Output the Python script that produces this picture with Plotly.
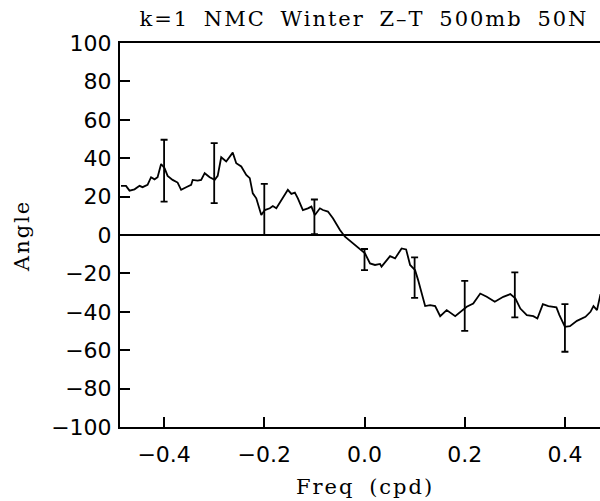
import plotly.graph_objects as go

# Phase angle spectrum, k=1, NMC winter Z-T at 500mb, 50N
freq = [-0.486, -0.476, -0.469, -0.459, -0.449, -0.443, -0.433, -0.426, -0.419, -0.413,
        -0.406, -0.399, -0.393, -0.383, -0.373, -0.366, -0.356, -0.346, -0.343, -0.333,
        -0.326, -0.319, -0.309, -0.299, -0.293, -0.286, -0.276, -0.263, -0.256, -0.246,
        -0.236, -0.229, -0.223, -0.216, -0.206, -0.199, -0.189, -0.183, -0.176, -0.166,
        -0.153, -0.146, -0.139, -0.133, -0.123, -0.113, -0.106, -0.099, -0.089, -0.083,
        -0.073, -0.063, -0.053, -0.049, -0.039, -0.023, 0.001, 0.011, 0.021, 0.031,
        0.034, 0.051, 0.061, 0.074, 0.083, 0.091, 0.101, 0.107, 0.121, 0.131,
        0.141, 0.151, 0.164, 0.181, 0.191, 0.204, 0.217, 0.231, 0.244, 0.260,
        0.277, 0.291, 0.301, 0.311, 0.324, 0.337, 0.345, 0.356, 0.367, 0.383,
        0.389, 0.400, 0.410, 0.424, 0.441, 0.451, 0.457, 0.464, 0.471]
angle = [25.6, 25.6, 23.1, 23.8, 25.6, 24.9, 26.1, 30.1, 29.0, 30.1,
         37.0, 34.8, 30.8, 28.7, 27.3, 23.5, 24.9, 26.1, 28.7, 28.3,
         28.7, 32.2, 30.1, 28.7, 30.8, 40.5, 38.3, 42.9, 37.4, 35.7,
         31.3, 29.6, 21.7, 19.1, 10.4, 13.0, 13.9, 15.1, 13.9, 18.3,
         23.5, 21.4, 22.1, 19.1, 13.0, 13.9, 14.8, 10.4, 13.9, 13.0,
         12.2, 8.7, 4.3, 2.6, -0.9, -4.3, -9.6, -14.8, -15.6, -15.1,
         -16.5, -11.0, -12.2, -7.0, -7.5, -15.6, -18.3, -23.5, -37.0, -36.5,
         -37.0, -42.3, -39.1, -42.3, -40.0, -37.4, -35.7, -30.5, -32.2, -34.8,
         -32.2, -30.8, -33.0, -38.3, -41.7, -42.3, -43.5, -36.0, -37.0, -37.7,
         -41.7, -47.8, -47.5, -44.7, -42.6, -40.0, -37.0, -39.1, -30.8]

# Confidence intervals at selected frequencies
bar_freq = [-0.4, -0.3, -0.2, -0.1, 0.0, 0.1, 0.2, 0.3, 0.4]
bar_center = [33.5, 32.2, 13.3, 9.5, -12.8, -22.2, -36.9, -31.2, -48.4]
bar_half = [16.1, 15.6, 13.3, 9.0, 5.5, 10.5, 13.0, 11.7, 12.4]

x_ticks = [-0.4, -0.2, 0.0, 0.2, 0.4]
x_labels = ["\u22120.4", "\u22120.2", "0.0", "0.2", "0.4"]
y_ticks = [-100, -80, -60, -40, -20, 0, 20, 40, 60, 80, 100]
y_labels = [("\u2212" + str(-v)) if v < 0 else str(v) for v in y_ticks]

SERIF = "DejaVu Serif"
SANS = "DejaVu Sans"


def spaced(text, ls=2.0, ws=6):
    return f'<span style="letter-spacing:{ls}px; word-spacing:{ws}px">{text}</span>'


W, H = 600, 501
L, R, T, B = 120, 0, 43, 74
PW, PH = W - L - R, H - T - B

fig = go.Figure()

# zero reference line
fig.add_trace(go.Scatter(x=[-0.488, 0.47], y=[0, 0], mode="lines",
                         line=dict(color="black", width=2), hoverinfo="skip",
                         showlegend=False))

fig.add_trace(go.Scatter(x=freq, y=angle, mode="lines",
                         line=dict(color="black", width=1.8), showlegend=False))

fig.add_trace(go.Scatter(x=bar_freq, y=bar_center, mode="markers",
                         marker=dict(size=1, color="black"),
                         error_y=dict(type="data", array=bar_half, visible=True,
                                      color="black", thickness=1.8, width=3.5),
                         showlegend=False))

fig.update_layout(
    width=W, height=H,
    margin=dict(l=L, r=R, t=T, b=B),
    paper_bgcolor="white", plot_bgcolor="white",
    title=dict(text=spaced("k=1 NMC Winter Z\u2013T 500mb 50N", 2.0, 6),
               x=364 / W, xanchor="center", y=1 - 19 / H, yanchor="middle",
               xref="container", yref="container",
               font=dict(family=SERIF, size=21, color="black")),
    xaxis=dict(range=[-0.488, 0.47], tickmode="array", tickvals=x_ticks,
               ticktext=x_labels, ticks="inside", ticklen=10, tickwidth=1.5,
               tickcolor="black", showline=True, linecolor="black", linewidth=2,
               mirror=True, showgrid=False, zeroline=False, ticklabelstandoff=7,
               tickfont=dict(family=SANS, size=22, color="black")),
    yaxis=dict(range=[-100, 100], tickmode="array", tickvals=y_ticks,
               ticktext=y_labels, ticks="inside", ticklen=10, tickwidth=1.5,
               tickcolor="black", showline=True, linecolor="black", linewidth=2,
               showgrid=False, zeroline=False, ticklabelstandoff=2,
               tickfont=dict(family=SANS, size=22, color="black")),
    annotations=[
        dict(text=spaced("Freq (cpd)", 2.0, 6), x=0.0, xref="x",
             y=(H - B - 487) / PH, yref="paper", showarrow=False,
             xanchor="center", yanchor="middle",
             font=dict(family=SERIF, size=21, color="black")),
        dict(text=spaced("Angle", 2.0, 6), textangle=-90,
             x=(22 - L) / PW, xref="paper", y=(H - B - 236) / PH, yref="paper",
             showarrow=False, xanchor="center", yanchor="middle",
             font=dict(family=SERIF, size=21, color="black")),
    ],
)

fig.write_html("out.html")
